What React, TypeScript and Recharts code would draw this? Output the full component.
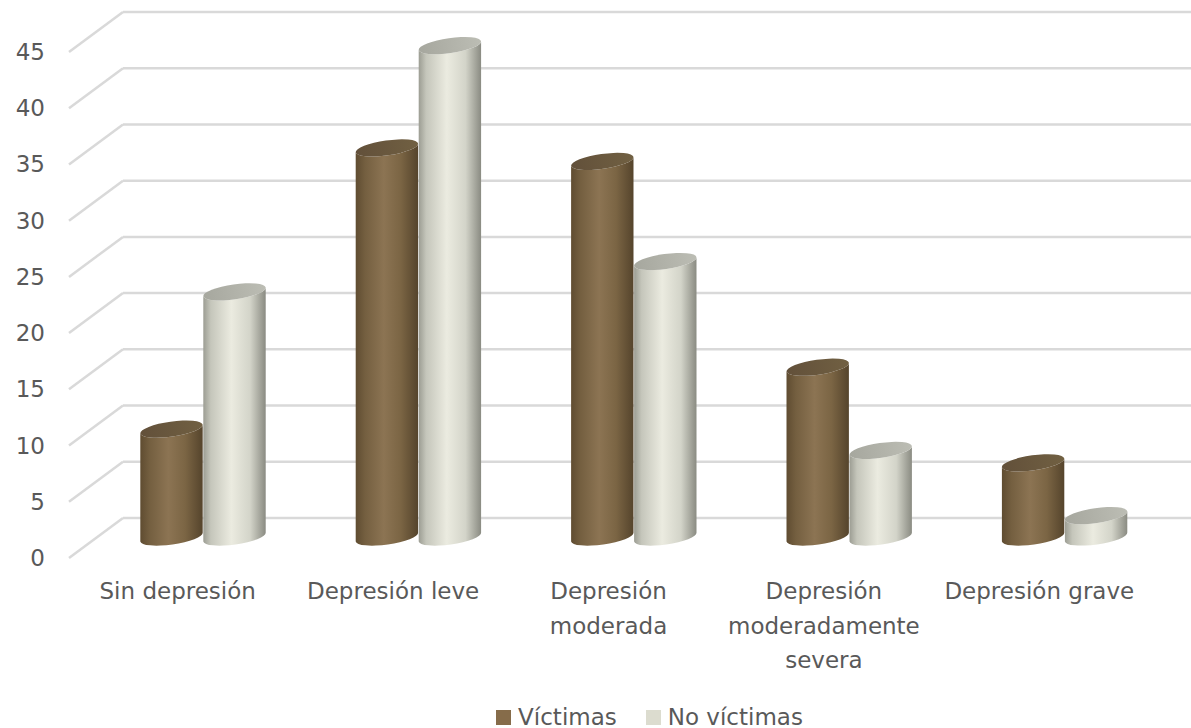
import React from "react";
import { BarChart, Bar, XAxis, YAxis, CartesianGrid } from "recharts";

const categories = [
  "Sin depresión",
  "Depresión leve",
  "Depresión moderada",
  "Depresión moderadamente severa",
  "Depresión grave",
];
const tickLines = [
  ["Sin depresión"],
  ["Depresión leve"],
  ["Depresión", "moderada"],
  ["Depresión", "moderadamente", "severa"],
  ["Depresión grave"],
];
const victimas = [9.6, 34.6, 33.4, 15.1, 6.6];
const noVictimas = [21.8, 43.7, 24.5, 7.7, 1.9];
const yTicks = [0, 5, 10, 15, 20, 25, 30, 35, 40, 45];

const seriesNames = ["Víctimas", "No víctimas"];
const legendColors = ["#866c4a", "#dcdccf"];

const FONT = "'DejaVu Sans', sans-serif";
const TEXT = "#595959";

const data = categories.map((name, i) => ({
  name,
  v: victimas[i],
  nv: noVictimas[i],
}));

const TILT = 8;
const Cylinder = (props: any) => {
  const { x, y, width, height, body, top } = props;
  if (width == null || height == null) return null;
  const rx = width / 2;
  const ry = 7.5;
  const c = Math.cos((TILT * Math.PI) / 180);
  const s = Math.sin((TILT * Math.PI) / 180);
  const cx = x + rx;
  const yT = y;
  const yB = y + height;
  const lx = cx - rx * c;
  const rxp = cx + rx * c;
  const d =
    `M ${lx} ${yT + rx * s} L ${lx} ${yB + rx * s} ` +
    `A ${rx} ${ry} ${-TILT} 0 0 ${rxp} ${yB - rx * s} ` +
    `L ${rxp} ${yT - rx * s} ` +
    `A ${rx} ${ry} ${-TILT} 0 1 ${lx} ${yT + rx * s} Z`;
  return (
    <g>
      <path d={d} fill={body} />
      <ellipse
        cx={cx}
        cy={yT}
        rx={rx}
        ry={ry}
        fill={top}
        transform={`rotate(${-TILT} ${cx} ${yT})`}
      />
    </g>
  );
};

const gridLine = (props: any) => {
  const y = props.y1;
  return (
    <g key={props.key}>
      <line x1={69} y1={y + 21} x2={123} y2={y - 19} stroke="#d9d9d9" strokeWidth={2.5} />
      <line x1={123} y1={y - 19} x2={1191} y2={y - 19} stroke="#d9d9d9" strokeWidth={2.5} />
    </g>
  );
};

const YTick = (props: any) => {
  const { y, payload } = props;
  return (
    <text x={45} y={y + 29} textAnchor="end" fontFamily={FONT} fontSize={23} fill={TEXT}>
      {payload.value}
    </text>
  );
};

const XTick = (props: any) => {
  const { x, index } = props;
  const lines = tickLines[index] || [];
  return (
    <g>
      {lines.map((l, i) => (
        <text
          key={i}
          x={x - 25}
          y={599 + i * 34.5}
          textAnchor="middle"
          fontFamily={FONT}
          fontSize={23}
          fill={TEXT}
        >
          {l}
        </text>
      ))}
    </g>
  );
};

export default function App() {
  return (
    <div style={{ position: "absolute", left: 0, top: 0, width: 1191, height: 728, background: "#fff" }}>
      <BarChart
        width={1191}
        height={728}
        data={data}
        margin={{ top: 31, right: 19, left: 0, bottom: 41 }}
        barGap={0}
      >
        <defs>
          <linearGradient id="gBrown" x1="0" y1="0" x2="1" y2="0">
            <stop offset="0%" stopColor="#5f4c31" />
            <stop offset="15%" stopColor="#745f40" />
            <stop offset="45%" stopColor="#8c7453" />
            <stop offset="72%" stopColor="#7b6544" />
            <stop offset="100%" stopColor="#55442c" />
          </linearGradient>
          <linearGradient id="gBrownTop" x1="0" y1="0" x2="1" y2="0">
            <stop offset="0%" stopColor="#62503a" />
            <stop offset="100%" stopColor="#716042" />
          </linearGradient>
          <linearGradient id="gWhite" x1="0" y1="0" x2="1" y2="0">
            <stop offset="0%" stopColor="#9c9d93" />
            <stop offset="12%" stopColor="#c5c6bb" />
            <stop offset="45%" stopColor="#ebebe0" />
            <stop offset="75%" stopColor="#d3d4c9" />
            <stop offset="100%" stopColor="#8a8b82" />
          </linearGradient>
          <linearGradient id="gWhiteTop" x1="0" y1="0" x2="1" y2="0">
            <stop offset="0%" stopColor="#a6a79e" />
            <stop offset="100%" stopColor="#bcbdb4" />
          </linearGradient>
        </defs>
        <CartesianGrid vertical={false} horizontal={gridLine} />
        <XAxis dataKey="name" axisLine={false} tickLine={false} height={150} tick={<XTick />} interval={0} />
        <YAxis
          domain={[0, 45]}
          ticks={yTicks}
          width={95}
          axisLine={false}
          tickLine={false}
          tick={<YTick />}
          interval={0}
        />
        <Bar
          dataKey="v"
          name={seriesNames[0]}
          barSize={63}
          isAnimationActive={false}
          shape={(p: any) => <Cylinder {...p} body="url(#gBrown)" top="url(#gBrownTop)" />}
        />
        <Bar
          dataKey="nv"
          name={seriesNames[1]}
          barSize={63}
          isAnimationActive={false}
          shape={(p: any) => <Cylinder {...p} body="url(#gWhite)" top="url(#gWhiteTop)" />}
        />
      </BarChart>
      <div
        style={{
          position: "absolute",
          top: 702,
          left: 54,
          width: 1191,
          display: "flex",
          justifyContent: "center",
          fontFamily: FONT,
          fontSize: 23,
          color: TEXT,
          lineHeight: "30px",
        }}
      >
        {seriesNames.map((n, i) => (
          <div key={n} style={{ display: "flex", alignItems: "center", marginRight: i === 0 ? 29 : 0 }}>
            <span style={{ display: "inline-block", width: 15, height: 15, background: legendColors[i], marginRight: 7 }} />
            <span>{n}</span>
          </div>
        ))}
      </div>
    </div>
  );
}
